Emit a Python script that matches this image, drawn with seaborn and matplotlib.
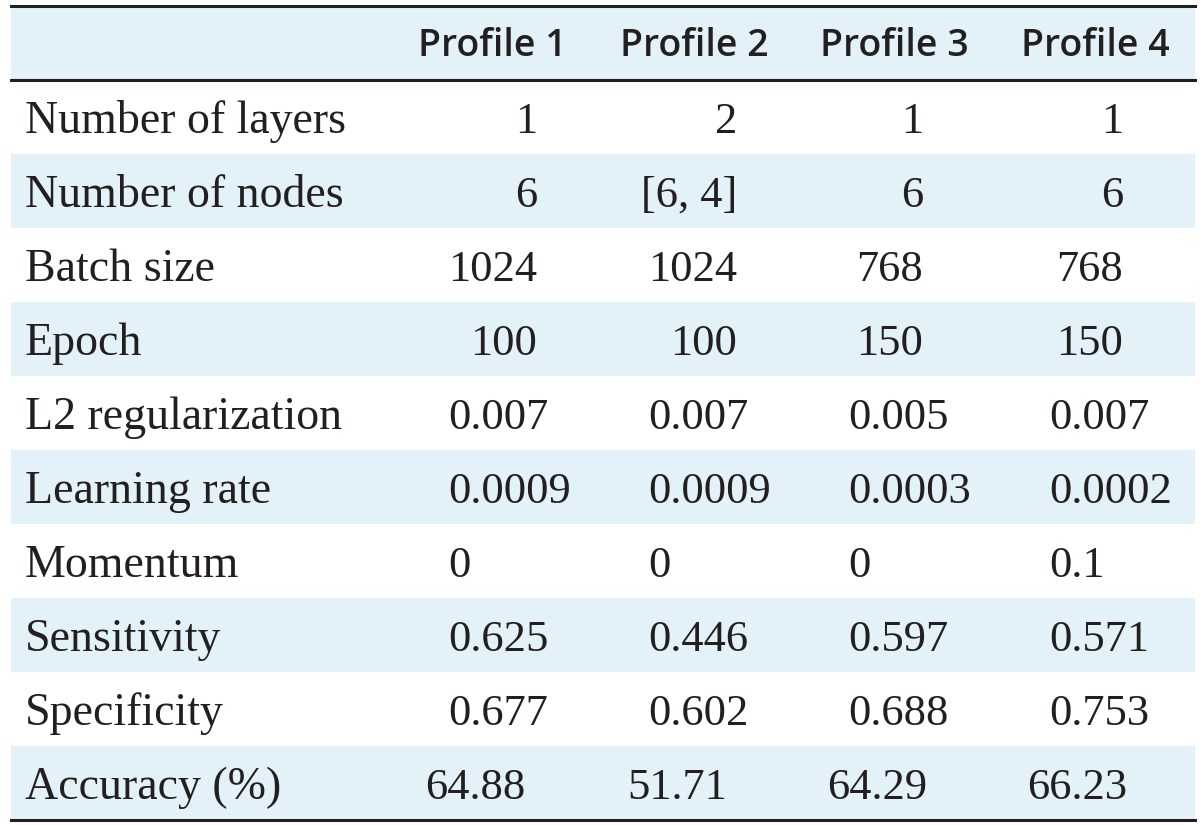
# Table of network profiles, drawn as a seaborn heatmap (row bands) plus text
import numpy as np
import matplotlib.pyplot as plt
import seaborn as sns
from matplotlib.colors import ListedColormap

# Table content
row_labels = ['Number of layers', 'Number of nodes', 'Batch size', 'Epoch',
              'L2 regularization', 'Learning rate', 'Momentum', 'Sensitivity',
              'Specificity', 'Accuracy (%)']
profiles = ['Profile 1', 'Profile 2', 'Profile 3', 'Profile 4']
profile1 = ['1', '6', '1024', '100', '0.007', '0.0009', '0', '0.625', '0.677', '64.88']
profile2 = ['2', '[6, 4]', '1024', '100', '0.007', '0.0009', '0', '0.446', '0.602', '51.71']
profile3 = ['1', '6', '768', '150', '0.005', '0.0003', '0', '0.597', '0.688', '64.29']
profile4 = ['1', '6', '768', '150', '0.007', '0.0002', '0.1', '0.571', '0.753', '66.23']
columns = [profile1, profile2, profile3, profile4]

# Layout (pixel positions in the 1200x825 picture)
W, H = 1200, 825
left_px, right_px, top_px, bottom_px = 11, 1195, 6, 820
label_x = 25
right_anchor = [537, 737, 923, 1123]   # rows 0-3 are right aligned
left_anchor = [448, 648, 848, 1049]    # rows 4-8 are left aligned
acc_anchor = [425, 627, 827, 1027]     # last row sits a little further left
header_center = [492, 694, 894, 1095]

band_color = '#E3F2F8'
ink = '#231F20'
serif = 'Liberation Serif'

fig = plt.figure(figsize=(W / 100, H / 100), dpi=100)
ax = fig.add_axes([left_px / W, (H - bottom_px) / H,
                   (right_px - left_px) / W, (bottom_px - top_px) / H])

n_rows = len(row_labels) + 1
bands = np.array([[1 - (i % 2)] for i in range(n_rows)])
sns.heatmap(bands, ax=ax, cmap=ListedColormap(['white', band_color]),
            cbar=False, xticklabels=False, yticklabels=False, vmin=0, vmax=1)
ax.axis('off')


def px_x(px):
    return (px - left_px) / (right_px - left_px)


# header
for name, cx in zip(profiles, header_center):
    ax.text(px_x(cx), 0.67, name, ha='center', va='baseline', color=ink,
            family='Open Sans', fontweight='semibold', fontsize=27)

# body rows
for i, label in enumerate(row_labels):
    y = i + 1 + 0.71
    ax.text(px_x(label_x), y, label, ha='left', va='baseline', color=ink,
            family=serif, fontsize=33)
    for j, col in enumerate(columns):
        if i < 4:
            x, ha = right_anchor[j], 'right'
        elif i < len(row_labels) - 1:
            x, ha = left_anchor[j], 'left'
        else:
            x, ha = acc_anchor[j], 'left'
        ax.text(px_x(x), y, col[i], ha=ha, va='baseline', color=ink,
                family=serif, fontsize=32)

# rules
for yl in [0, 1, n_rows]:
    ax.axhline(yl, color=ink, lw=2.2, clip_on=False)

fig.savefig('out.png', dpi=100)
